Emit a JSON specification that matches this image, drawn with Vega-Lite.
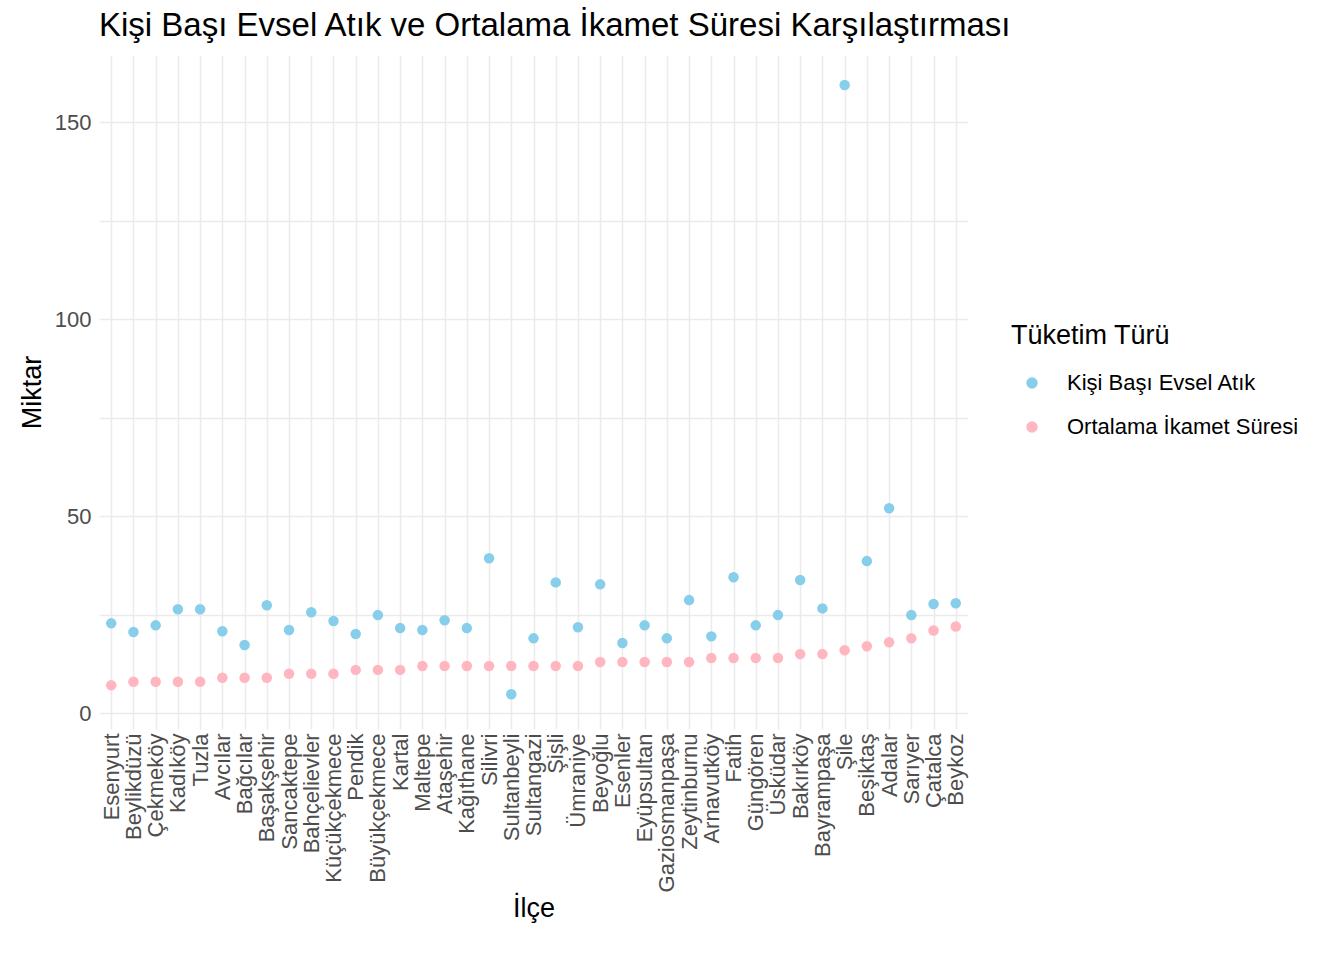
{
  "$schema": "https://vega.github.io/schema/vega-lite/v6.json",
  "width": 869,
  "height": 674,
  "padding": {"left": 18, "top": 10, "right": 10, "bottom": 5},
  "background": "white",
  "title": {"text": "Kişi Başı Evsel Atık ve Ortalama İkamet Süresi Karşılaştırması", "anchor": "start", "frame": "group", "fontSize": 33, "fontWeight": "normal", "font": "Liberation Sans", "color": "black", "offset": 12},
  "config": {"view": {"stroke": null}, "font": "Liberation Sans"},
  "data": {"values": [
    {"ilce": "Esenyurt", "atik": 22.8, "ikamet": 7.1},
    {"ilce": "Beylikdüzü", "atik": 20.6, "ikamet": 8},
    {"ilce": "Çekmeköy", "atik": 22.3, "ikamet": 8},
    {"ilce": "Kadıköy", "atik": 26.4, "ikamet": 8},
    {"ilce": "Tuzla", "atik": 26.4, "ikamet": 8},
    {"ilce": "Avcılar", "atik": 20.8, "ikamet": 9},
    {"ilce": "Bağcılar", "atik": 17.3, "ikamet": 9},
    {"ilce": "Başakşehir", "atik": 27.4, "ikamet": 9},
    {"ilce": "Sancaktepe", "atik": 21.1, "ikamet": 10},
    {"ilce": "Bahçelievler", "atik": 25.6, "ikamet": 10},
    {"ilce": "Küçükçekmece", "atik": 23.4, "ikamet": 10},
    {"ilce": "Pendik", "atik": 20.1, "ikamet": 11},
    {"ilce": "Büyükçekmece", "atik": 24.9, "ikamet": 11},
    {"ilce": "Kartal", "atik": 21.6, "ikamet": 11},
    {"ilce": "Maltepe", "atik": 21.1, "ikamet": 12},
    {"ilce": "Ataşehir", "atik": 23.6, "ikamet": 12},
    {"ilce": "Kağıthane", "atik": 21.6, "ikamet": 12},
    {"ilce": "Silivri", "atik": 39.3, "ikamet": 12},
    {"ilce": "Sultanbeyli", "atik": 4.8, "ikamet": 12},
    {"ilce": "Sultangazi", "atik": 19.0, "ikamet": 12},
    {"ilce": "Şişli", "atik": 33.2, "ikamet": 12},
    {"ilce": "Ümraniye", "atik": 21.8, "ikamet": 12},
    {"ilce": "Beyoğlu", "atik": 32.7, "ikamet": 13},
    {"ilce": "Esenler", "atik": 17.8, "ikamet": 13},
    {"ilce": "Eyüpsultan", "atik": 22.3, "ikamet": 13},
    {"ilce": "Gaziosmanpaşa", "atik": 19.0, "ikamet": 13},
    {"ilce": "Zeytinburnu", "atik": 28.7, "ikamet": 13},
    {"ilce": "Arnavutköy", "atik": 19.5, "ikamet": 14},
    {"ilce": "Fatih", "atik": 34.5, "ikamet": 14},
    {"ilce": "Güngören", "atik": 22.3, "ikamet": 14},
    {"ilce": "Üsküdar", "atik": 24.9, "ikamet": 14},
    {"ilce": "Bakırköy", "atik": 33.8, "ikamet": 15},
    {"ilce": "Bayrampaşa", "atik": 26.6, "ikamet": 15},
    {"ilce": "Şile", "atik": 159.4, "ikamet": 16},
    {"ilce": "Beşiktaş", "atik": 38.6, "ikamet": 17},
    {"ilce": "Adalar", "atik": 52.0, "ikamet": 18},
    {"ilce": "Sarıyer", "atik": 24.9, "ikamet": 19},
    {"ilce": "Çatalca", "atik": 27.7, "ikamet": 21},
    {"ilce": "Beykoz", "atik": 27.9, "ikamet": 22}
  ]},
  "transform": [
    {"fold": ["atik", "ikamet"], "as": ["key", "Miktar"]},
    {"lookup": "key", "from": {"data": {"values": [
      {"key": "atik", "tur": "Kişi Başı Evsel Atık"},
      {"key": "ikamet", "tur": "Ortalama İkamet Süresi"}
    ]}, "key": "key", "fields": ["tur"]}}
  ],
  "mark": {"type": "circle", "size": 110, "opacity": 1},
  "encoding": {
    "x": {"field": "ilce", "type": "nominal", "sort": null, "title": "İlçe",
      "scale": {"padding": 0.55},
      "axis": {"labelAngle": -90, "labelFontSize": 22, "labelColor": "#4d4d4d", "titleFontSize": 27, "titleFontWeight": "normal", "titleColor": "black", "domain": false, "ticks": false, "grid": true, "gridColor": "#ebebeb", "gridWidth": 1.5, "labelPadding": 4, "titlePadding": 4}},
    "y": {"field": "Miktar", "type": "quantitative", "title": "Miktar",
      "scale": {"domain": [-4, 167], "nice": false, "zero": false},
      "axis": {"values": [0, 25, 50, 75, 100, 125, 150], "labelExpr": "datum.value % 50 == 0 ? datum.label : ''", "labelFontSize": 22, "labelColor": "#4d4d4d", "titleFontSize": 27, "titleFontWeight": "normal", "titleColor": "black", "domain": false, "ticks": false, "gridColor": "#ebebeb", "gridWidth": 1.5, "labelPadding": 8, "titlePadding": 8}},
    "color": {"field": "tur", "type": "nominal", "title": "Tüketim Türü",
      "scale": {"domain": ["Kişi Başı Evsel Atık", "Ortalama İkamet Süresi"], "range": ["#87ceeb", "#ffb6c1"]},
      "legend": {"orient": "none", "legendX": 912, "legendY": 268, "titleFontSize": 27, "titleFontWeight": "normal", "titleColor": "black", "labelFontSize": 22, "labelColor": "black", "labelLimit": 0, "symbolType": "circle", "symbolSize": 130, "rowPadding": 22, "titlePadding": 22, "symbolOffset": 10, "labelOffset": 24}}
  }
}
